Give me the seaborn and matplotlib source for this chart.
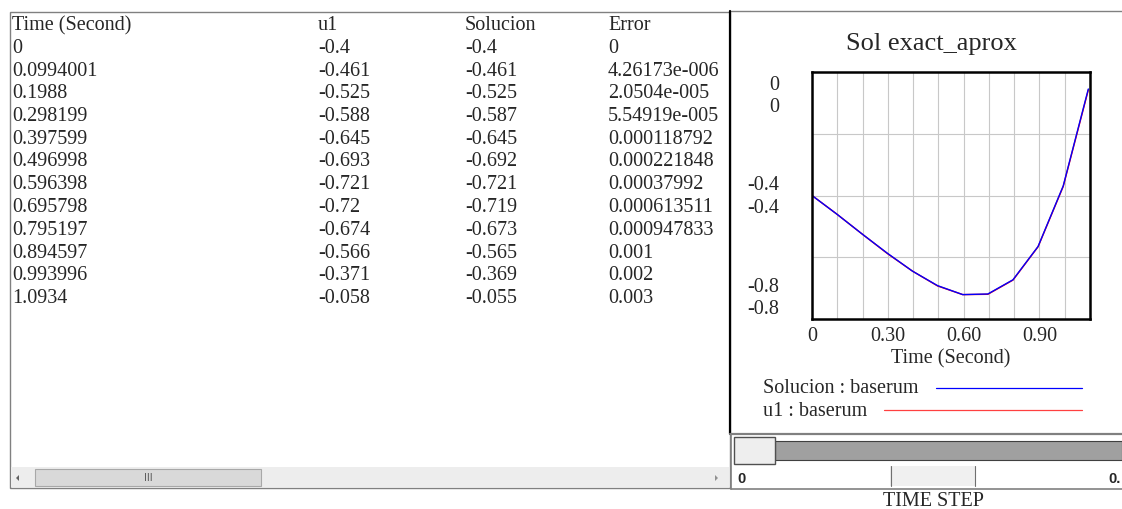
"""
Vensim-style output view: data table + 'Sol exact_aprox' graph + time-step slider.
Saves out.png (1122x509).
"""
import numpy as np
import pandas as pd
import matplotlib
matplotlib.use("Agg")
import matplotlib.pyplot as plt
from matplotlib.patches import Rectangle, Polygon
import seaborn as sns

sns.set_theme(style="white")
plt.rcParams["font.family"] = ["Liberation Serif", "DejaVu Serif"]

# ---------------------------------------------------------------------------
# DATA (read off the table)
# ---------------------------------------------------------------------------
columns = ["Time (Second)", "u1", "Solucion", "Error"]
time = [0, 0.0994001, 0.1988, 0.298199, 0.397599, 0.496998, 0.596398,
        0.695798, 0.795197, 0.894597, 0.993996, 1.0934]
u1 = [-0.4, -0.461, -0.525, -0.588, -0.645, -0.693, -0.721,
      -0.72, -0.674, -0.566, -0.371, -0.058]
solucion = [-0.4, -0.461, -0.525, -0.587, -0.645, -0.692, -0.721,
            -0.719, -0.673, -0.565, -0.369, -0.055]
error = [0, 4.26173e-6, 2.0504e-5, 5.54919e-5, 0.000118792, 0.000221848,
         0.00037992, 0.000613511, 0.000947833, 0.001, 0.002, 0.003]

chart_title = "Sol exact_aprox"
x_label = "Time (Second)"
x_tick_labels = ["0", "0.30", "0.60", "0.90"]
y_tick_labels = ["0", "-0.4", "-0.8"]       # Vensim prints each one twice (two scales)
legend_names = ["Solucion : baserum", "u1 : baserum"]
slider_label = "TIME STEP"
slider_ends = ["0", "0."]

COL_SOL, COL_U1 = "#0000ff", "#ff0000"
W, H = 1122, 509
FS = 14.5
DY = 1.5    # small downward nudge so text sits like the GDI rendering


def fmt_num(v):
    s = f"{v:g}"
    return s.replace("e-0", "e-00")      # Windows-style 3-digit exponent


# ---------------------------------------------------------------------------
# FIGURE + background axes in pixel coordinates
# ---------------------------------------------------------------------------
fig = plt.figure(figsize=(W / 100, H / 100), dpi=100)
bg = fig.add_axes([0, 0, 1, 1])
bg.set_xlim(0, W); bg.set_ylim(H, 0); bg.axis("off")

# --- table panel ------------------------------------------------------------
bg.add_patch(Rectangle((10, 12), 720, 476, fill=False, ec="#808080", lw=1))
col_x = [12, 318, 465, 608]
row_y0, row_dy = 24 + DY, 22.75
for cx, name in zip(col_x, columns):
    bg.text(cx, row_y0, name, fontsize=FS, va="center", ha="left")
for i, row in enumerate(zip(time, u1, solucion, error)):
    y = row_y0 + row_dy * (i + 1)
    for cx, v in zip(col_x, row):
        bg.text(cx, y, fmt_num(v), fontsize=FS, va="center", ha="left")

# horizontal scrollbar
bg.add_patch(Rectangle((11, 467), 718, 20, fc="#ededed", ec="none"))
bg.add_patch(Rectangle((35, 469), 226, 17, fc="#d9d9d9", ec="#a8a8a8", lw=0.8))
bg.text(148, 478, "III", fontsize=7, ha="center", va="center", color="#555555",
        family="DejaVu Sans")
bg.add_patch(Polygon([[16, 478], [19, 475], [19, 481]], fc="#606060", ec="none"))
bg.add_patch(Polygon([[718, 478], [715, 475], [715, 481]], fc="#909090", ec="none"))

# --- chart panel frame ------------------------------------------------------
bg.plot([730, W], [11, 11], color="#808080", lw=1)
bg.plot([730, 730], [11, 434], color="black", lw=1.6)
bg.plot([730, W], [434, 434], color="#808080", lw=1.6)

bg.text(931, 44, chart_title, fontsize=19, ha="center", va="center")

# y labels (each shown twice, as Vensim does for two series)
for lab, (ya, yb) in zip(y_tick_labels, [(84, 106), (184, 207), (286, 308)]):
    bg.text(779, ya + DY, lab, fontsize=FS, ha="right", va="center")
    bg.text(779, yb + DY, lab, fontsize=FS, ha="right", va="center")

bg.text(951, 357 + DY, x_label, fontsize=FS, ha="center", va="center")

# legend
bg.text(763, 387 + DY, legend_names[0], fontsize=FS, ha="left", va="center")
bg.plot([936, 1082], [388, 388], color=COL_SOL, lw=0.9)
bg.text(763, 410 + DY, legend_names[1], fontsize=FS, ha="left", va="center")
bg.plot([884, 1082], [410, 410], color=COL_U1, lw=0.9, alpha=0.75)

# --- slider -----------------------------------------------------------------
bg.plot([731, 731], [434, 489], color="#808080", lw=1.2)
bg.plot([731, W], [489, 489], color="#808080", lw=1.2)
bg.add_patch(Rectangle((775, 441), W - 775, 19, fc="#a0a0a0", ec="#404040", lw=0.8))
bg.add_patch(Rectangle((734, 437), 41, 27, fc="#eeeeee", ec="#505050", lw=1))
bg.add_patch(Rectangle((890, 466), 86, 20, fc="#f0f0f0", ec="none"))
bg.plot([891, 891], [466, 486], color="#707070", lw=0.8)
bg.plot([975, 975], [466, 486], color="#707070", lw=0.8)
bg.text(737, 479, slider_ends[0], fontsize=10.5, weight="bold", ha="left", va="center",
        family="Liberation Sans")
bg.text(1121, 479, slider_ends[1], fontsize=10.5, weight="bold", ha="right", va="center",
        family="Liberation Sans")
bg.text(933, 500 + DY, slider_label, fontsize=FS, ha="center", va="center")

# ---------------------------------------------------------------------------
# GRAPH
# ---------------------------------------------------------------------------
px0, px1, py0, py1 = 812, 1090, 72, 319
ax = fig.add_axes([px0 / W, 1 - py1 / H, (px1 - px0) / W, (py1 - py0) / H])

df = pd.DataFrame({"Time": time, "u1": u1, "Solucion": solucion})
long = df.melt(id_vars="Time", var_name="series", value_name="value")
sns.lineplot(data=long, x="Time", y="value", hue="series",
             hue_order=["u1", "Solucion"],
             palette={"u1": COL_U1, "Solucion": COL_SOL},
             lw=1, legend=False, ax=ax)

ax.set_xlim(0, 1.1)
ax.set_ylim(-0.8, 0)
xt = np.round(np.arange(0, 1.11, 0.1), 2)
ax.set_xticks(xt)
ax.set_xticklabels([x_tick_labels[int(round(t / 0.3))] if abs(t / 0.3 - round(t / 0.3)) < 1e-6
                    and round(t / 0.3) < len(x_tick_labels) else "" for t in xt],
                   fontsize=FS)
ax.set_yticks([-0.6, -0.4, -0.2])
ax.set_yticklabels([])
ax.tick_params(length=0)
ax.tick_params(axis="x", pad=6)
ax.grid(True, color="#c8c8c8", lw=0.8)
ax.set_xlabel(""); ax.set_ylabel("")
for s in ax.spines.values():
    s.set_color("black"); s.set_linewidth(1.8)

fig.savefig("out.png", dpi=100)
